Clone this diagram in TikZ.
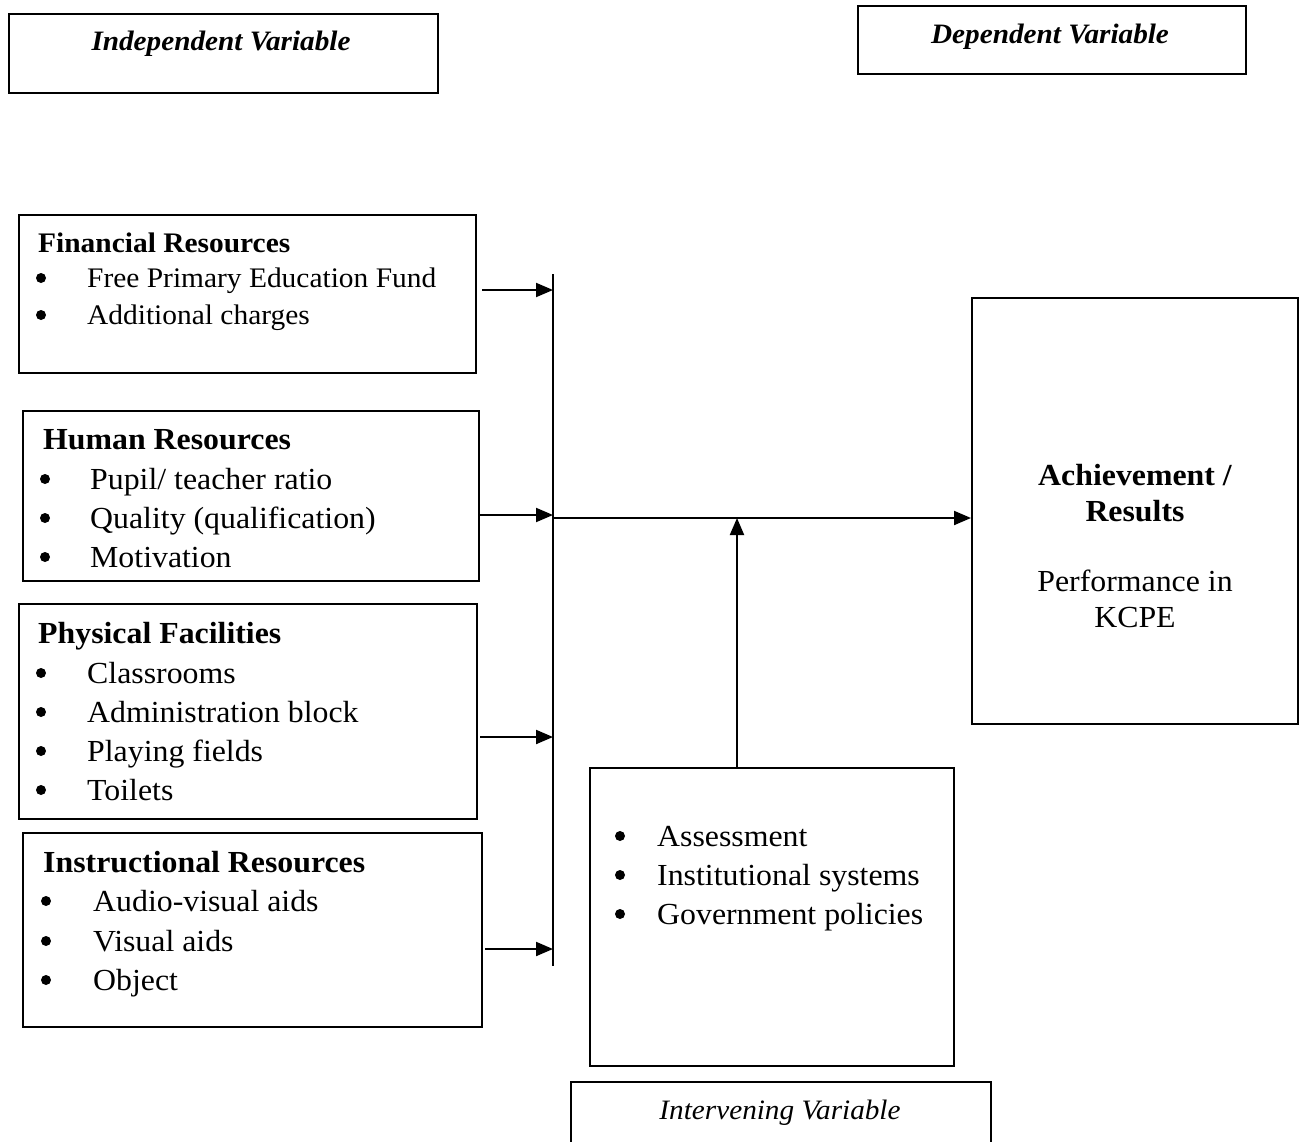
\documentclass[tikz,border=0pt]{standalone}
\usepackage{fontspec}
\setmainfont[FakeStretch=1.04]{Liberation Serif}
\usetikzlibrary{arrows.meta}
\tikzset{
  box/.style={draw, line width=2pt, inner sep=0pt, anchor=north west},
  big/.style={font=\fontsize{30.6}{36}\selectfont},
  small/.style={font=\fontsize{28.3}{33}\selectfont},
  ttl/.style={anchor=base west, inner sep=0pt},
  itm/.style={anchor=base west, inner sep=0pt},
  blt/.style={circle, fill=black, inner sep=0pt, minimum size=10pt},
  ctr/.style={anchor=base, inner sep=0pt},
  arr/.style={line width=2pt, -{Triangle[length=17pt,width=14pt]}},
  ln/.style={line width=2pt}
}
\begin{document}
\begin{tikzpicture}[x=1pt,y=-1pt]
\useasboundingbox (0,0) rectangle (1300,1142);
% variable labels
\node[box, minimum width=429pt, minimum height=79pt] (indep) at (8,13) {};
\node[ctr, font=\fontsize{28.1}{33}\selectfont\bfseries\itshape] (indept) at (221,51) {Independent Variable};
\node[box, minimum width=388pt, minimum height=68pt] (dep) at (857,5) {};
\node[ctr, font=\fontsize{28.1}{33}\selectfont\bfseries\itshape] (dept) at (1050,44) {Dependent Variable};
\node[box, minimum width=420pt, minimum height=90pt] (interv) at (570,1081) {};
\node[ctr, font=\fontsize{28.1}{33}\selectfont\itshape] (intervt) at (780,1119) {Intervening Variable};

% Financial
\node[box, minimum width=457pt, minimum height=158pt] (fin) at (18,214) {};
\node[ttl, font=\fontsize{28.3}{33}\selectfont\bfseries] (fint) at (38,252) {Financial Resources};
\node[blt] (finb1) at (41,278) {};
\node[itm, small] (fin1) at (87,287) {Free Primary Education Fund};
\node[blt] (finb2) at (41,315) {};
\node[itm, small] (fin2) at (87,324) {Additional charges};

% Human
\node[box, minimum width=456pt, minimum height=170pt] (hum) at (22,410) {};
\node[ttl, font=\fontsize{30.6}{36}\selectfont\bfseries] (humt) at (43,449) {Human Resources};
\node[blt] (humb1) at (45,479) {};
\node[itm, big] (hum1) at (90,489) {Pupil/ teacher ratio};
\node[blt] (humb2) at (45,518) {};
\node[itm, big] (hum2) at (90,528) {Quality (qualification)};
\node[blt] (humb3) at (45,557) {};
\node[itm, big] (hum3) at (90,567) {Motivation};

% Physical
\node[box, minimum width=458pt, minimum height=215pt] (phy) at (18,603) {};
\node[ttl, font=\fontsize{30.6}{36}\selectfont\bfseries] (phyt) at (38,643) {Physical Facilities};
\node[blt] (phyb1) at (41,673) {};
\node[itm, big] (phy1) at (87,683) {Classrooms};
\node[blt] (phyb2) at (41,712) {};
\node[itm, big] (phy2) at (87,722) {Administration block};
\node[blt] (phyb3) at (41,751) {};
\node[itm, big] (phy3) at (87,761) {Playing fields};
\node[blt] (phyb4) at (41,790) {};
\node[itm, big] (phy4) at (87,800) {Toilets};

% Instructional
\node[box, minimum width=459pt, minimum height=194pt] (ins) at (22,832) {};
\node[ttl, font=\fontsize{30.6}{36}\selectfont\bfseries] (inst) at (43,872) {Instructional Resources};
\node[blt] (insb1) at (46,901) {};
\node[itm, big] (ins1) at (93,911) {Audio-visual aids};
\node[blt] (insb2) at (46,941) {};
\node[itm, big] (ins2) at (93,951) {Visual aids};
\node[blt] (insb3) at (46,980) {};
\node[itm, big] (ins3) at (93,990) {Object};

% Intervening factors
\node[box, minimum width=364pt, minimum height=298pt] (fac) at (589,767) {};
\node[blt] (facb1) at (620,836) {};
\node[itm, big] (fac1) at (657,846) {Assessment};
\node[blt] (facb2) at (620,875) {};
\node[itm, big] (fac2) at (657,885) {Institutional systems};
\node[blt] (facb3) at (620,914) {};
\node[itm, big] (fac3) at (657,924) {Government policies};

% Achievement
\node[box, minimum width=326pt, minimum height=426pt] (ach) at (971,297) {};
\node[ctr, font=\fontsize{30.6}{36}\selectfont\bfseries] (ach1) at (1135,485) {Achievement /};
\node[ctr, font=\fontsize{30.6}{36}\selectfont\bfseries] (ach2) at (1135,521) {Results};
\node[ctr, big] (ach3) at (1135,591) {Performance in};
\node[ctr, big] (ach4) at (1135,627) {KCPE};

% bus and connectors
\coordinate (bustop) at (553,274);
\coordinate (busbot) at (553,966);
\draw[ln] (bustop) -- (busbot);
\coordinate (jfin) at (553,290);
\coordinate (jhum) at (553,515);
\coordinate (jphy) at (553,737);
\coordinate (jins) at (553,949);
\coordinate (jmain) at (553,518);
\coordinate (jup) at (737,518);
\draw[arr] (fin.east |- jfin) ++(5,0) -- (jfin);
\draw[arr] (hum.east |- jhum) -- (jhum);
\draw[arr] (phy.east |- jphy) ++(2,0) -- (jphy);
\draw[arr] (ins.east |- jins) ++(2,0) -- (jins);
\draw[arr] (jmain) -- (ach.west |- jmain);
\draw[arr] (fac.north -| jup) -- (jup);
\end{tikzpicture}
\end{document}
